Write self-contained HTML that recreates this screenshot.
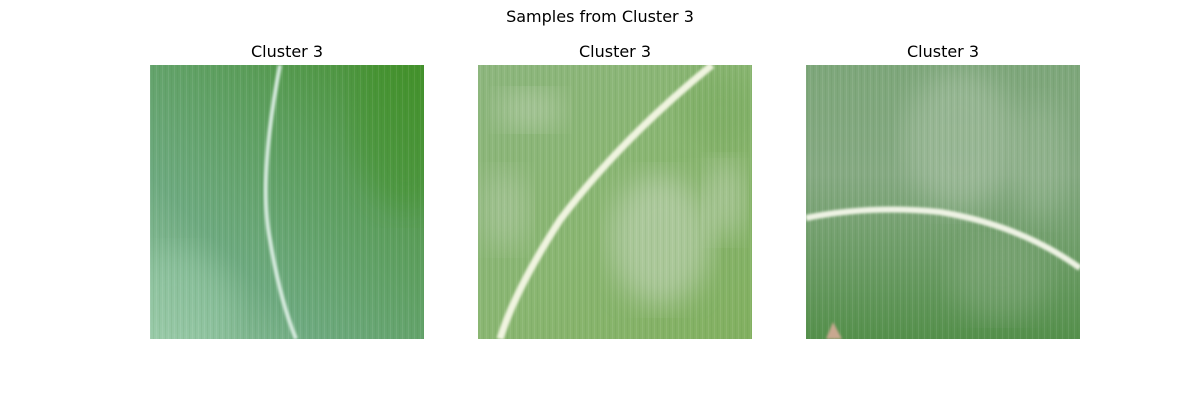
<!DOCTYPE html>
<html><head><meta charset="utf-8"><style>
body{margin:0;background:#fff;}
svg{display:block;font-family:"DejaVu Sans","Liberation Sans",sans-serif;}
</style></head><body>
<svg width="1200" height="400" viewBox="0 0 1200 400">
<defs>
<filter id="b8"><feGaussianBlur stdDeviation="14"/></filter>
<filter id="b1"><feGaussianBlur stdDeviation="1.2"/></filter>
<linearGradient id="g1" x1="1" y1="0" x2="0" y2="1">
<stop offset="0" stop-color="#45912e"/><stop offset="0.35" stop-color="#5c9e5c"/><stop offset="0.7" stop-color="#6eaa80"/><stop offset="1" stop-color="#98c8a6"/></linearGradient>
<linearGradient id="g2" x1="0" y1="0" x2="1" y2="1">
<stop offset="0" stop-color="#8db67e"/><stop offset="0.5" stop-color="#8ab672"/><stop offset="1" stop-color="#82b060"/></linearGradient>
<linearGradient id="g3" x1="0" y1="0" x2="0" y2="1">
<stop offset="0" stop-color="#7ea77b"/><stop offset="0.4" stop-color="#86aa83"/><stop offset="1" stop-color="#55904c"/></linearGradient>
<pattern id="streak" width="6" height="274" patternUnits="userSpaceOnUse"><rect width="1" height="274" fill="#ffffff" opacity="0.08"/><rect x="3" width="1" height="274" fill="#2a6a20" opacity="0.07"/></pattern>
<clipPath id="c1"><rect x="150" y="65" width="274" height="274"/></clipPath>
<clipPath id="c2"><rect x="478" y="65" width="274" height="274"/></clipPath>
<clipPath id="c3"><rect x="806" y="65" width="274" height="274"/></clipPath>
</defs>
<rect width="1200" height="400" fill="#fff"/>
<text x="600" y="22" text-anchor="middle" font-size="16">Samples from Cluster 3</text>

<g>
<text x="287" y="57" text-anchor="middle" font-size="16">Cluster 3</text>
<g clip-path="url(#c1)">
<rect x="150" y="65" width="274" height="274" fill="url(#g1)"/>
<ellipse cx="405" cy="120" rx="50" ry="90" fill="#3f9228" opacity="0.4" filter="url(#b8)"/>
<ellipse cx="175" cy="310" rx="60" ry="60" fill="#9fd0b0" opacity="0.35" filter="url(#b8)"/>
<rect x="150" y="65" width="274" height="274" fill="url(#streak)"/>
<path d="M280 65 Q258 180 270 240 Q280 300 296 339" stroke="#d8ece0" stroke-width="4" fill="none" filter="url(#b1)"/>
</g></g>

<g>
<text x="615" y="57" text-anchor="middle" font-size="16">Cluster 3</text>
<g clip-path="url(#c2)">
<rect x="478" y="65" width="274" height="274" fill="url(#g2)"/>
<ellipse cx="530" cy="110" rx="35" ry="20" fill="#c6d8bc" opacity="0.45" filter="url(#b8)"/>
<ellipse cx="660" cy="240" rx="50" ry="65" fill="#cfdcc8" opacity="0.5" filter="url(#b8)"/>
<ellipse cx="725" cy="200" rx="20" ry="40" fill="#cfdcc8" opacity="0.45" filter="url(#b8)"/>
<ellipse cx="505" cy="210" rx="25" ry="40" fill="#c8d8c0" opacity="0.35" filter="url(#b8)"/>
<ellipse cx="720" cy="110" rx="40" ry="40" fill="#74a85a" opacity="0.4" filter="url(#b8)"/>
<rect x="478" y="65" width="274" height="274" fill="url(#streak)"/>
<path d="M712 65 Q620 140 560 220 Q515 290 500 339" stroke="#f0f4e0" stroke-width="7" fill="none" filter="url(#b1)"/>
</g></g>

<g>
<text x="943" y="57" text-anchor="middle" font-size="16">Cluster 3</text>
<g clip-path="url(#c3)">
<rect x="806" y="65" width="274" height="274" fill="url(#g3)"/>
<ellipse cx="960" cy="140" rx="55" ry="70" fill="#b8ccb4" opacity="0.4" filter="url(#b8)"/>
<ellipse cx="1040" cy="160" rx="25" ry="60" fill="#a8c4a4" opacity="0.35" filter="url(#b8)"/>
<ellipse cx="1000" cy="280" rx="50" ry="40" fill="#8fb08a" opacity="0.35" filter="url(#b8)"/>
<rect x="806" y="65" width="274" height="274" fill="url(#streak)"/>
<path d="M806 218 Q870 205 940 212 Q1020 225 1080 268" stroke="#eef3e4" stroke-width="6" fill="none" filter="url(#b1)"/>
<path d="M826 339 L833 322 L842 339 Z" fill="#c9a890" filter="url(#b1)"/>
</g></g>
</svg>
</body></html>
